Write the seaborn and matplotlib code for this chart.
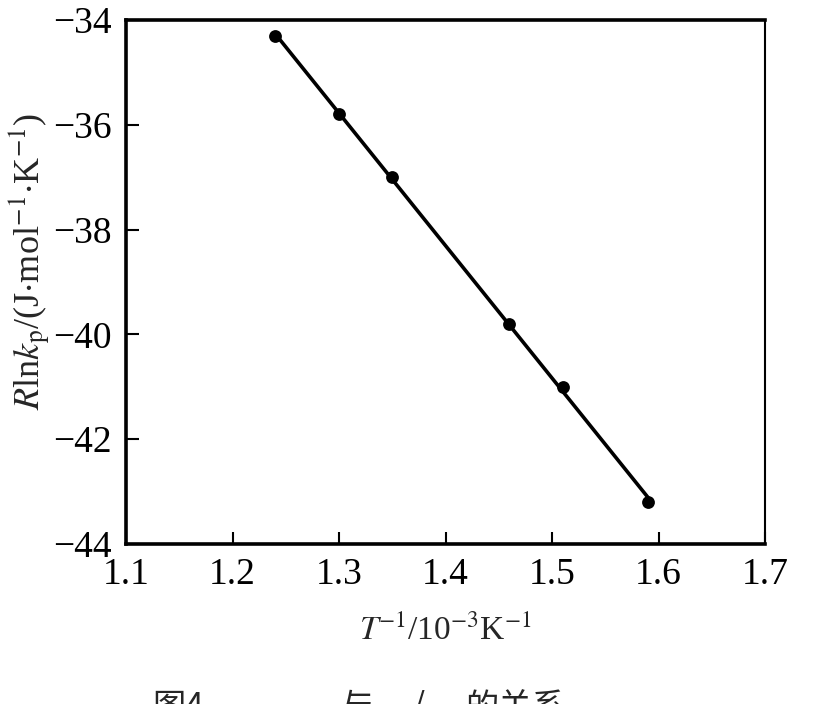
import matplotlib
matplotlib.use("Agg")
import matplotlib.pyplot as plt
import seaborn as sns

# data
inv_t = [1.24, 1.30, 1.35, 1.46, 1.51, 1.59]
r_ln_kp = [-34.3, -35.8, -37.0, -39.8, -41.0, -43.2]
x_ticks = [1.1, 1.2, 1.3, 1.4, 1.5, 1.6, 1.7]
y_ticks = [-44, -42, -40, -38, -36, -34]

sns.set_style("ticks")
plt.rcParams["font.family"] = ["Liberation Serif", "Noto Sans CJK SC"]
plt.rcParams["mathtext.fontset"] = "stix"

fig = plt.figure(figsize=(8.15, 7.04), dpi=100)
ax = fig.add_axes([0.1546, 0.2273, 0.7841, 0.7443])

sns.regplot(
    x=inv_t,
    y=r_ln_kp,
    ax=ax,
    ci=None,
    color="black",
    scatter_kws=dict(s=85, alpha=1, linewidths=0),
    line_kws=dict(lw=2.6),
)

ax.set_xlim(1.1, 1.7)
ax.set_ylim(-44, -34)
ax.set_xticks(x_ticks)
ax.set_yticks(y_ticks)
ax.set_xticklabels([f"{v:.1f}" for v in x_ticks], fontsize=27)
ax.set_yticklabels([f"\u2212{abs(v)}" for v in y_ticks], fontsize=27)
ax.tick_params(direction="in", length=9, width=1.5, pad=10, colors="black")

for side in ["left", "bottom", "top"]:
    ax.spines[side].set_linewidth(2.6)
    ax.spines[side].set_color("black")
ax.spines["right"].set_linewidth(1.5)
ax.spines["right"].set_color("black")

ax.set_xlabel(r"$\it{T}$$^{-1}$/10$^{-3}$K$^{-1}$", fontsize=24)
ax.xaxis.set_label_coords(0.5, -0.135)
ax.set_ylabel(r"$\it{R}$ln$\it{k}$$_{\rm p}$/(J$\cdot$mol$^{-1}$$\cdot$K$^{-1}$)", fontsize=26)
ax.yaxis.set_label_coords(-0.115, 0.54)

# caption, cut off by the bottom edge in the scan
cap = dict(fontsize=24, va="top", ha="left", family=["Noto Sans CJK SC"])
fig.text(152 / 815, 0.02, "图4", **cap)
fig.text(340 / 815, 0.02, "与", **cap)
fig.text(412 / 815, 0.02, "/", **cap)
fig.text(465 / 815, 0.02, "的关系", **cap)

fig.savefig("out.png", dpi=100)
